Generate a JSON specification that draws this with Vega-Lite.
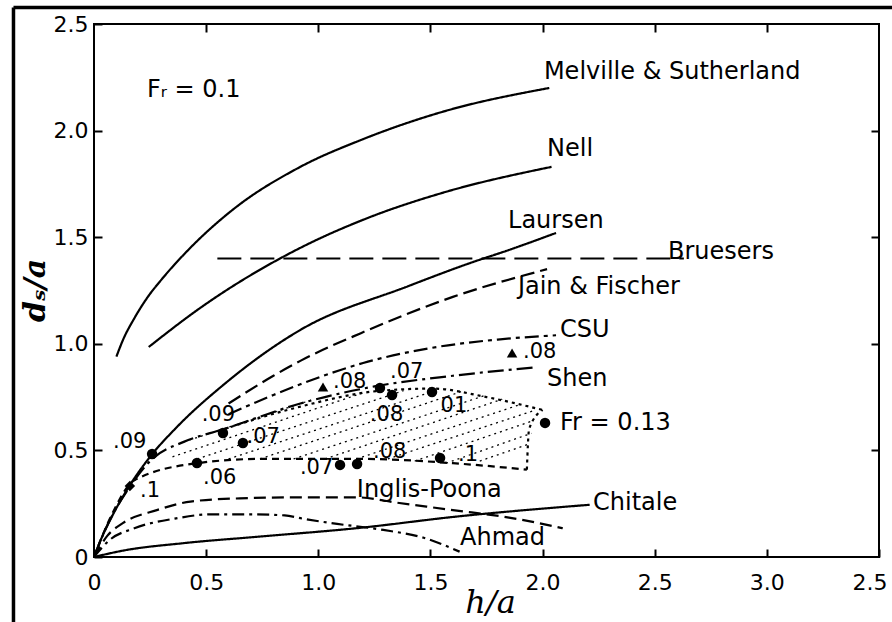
{
  "$schema": "https://vega.github.io/schema/vega-lite/v6.json",
  "width": 785,
  "height": 533,
  "autosize": {"type": "none"},
  "padding": {"left": 94, "top": 24, "right": 13, "bottom": 65},
  "background": "white",
  "config": {
    "view": {"stroke": "black", "strokeWidth": 2},
    "axis": {"grid": false, "domain": false, "tickColor": "black", "tickWidth": 2, "labelColor": "black", "labelFont": "DejaVu Sans", "labelFontSize": 22, "titleColor": "black"}
  },
  "datasets": {
    "frame": [
      {"x1": -0.359, "y1": 2.577, "x2": 3.56, "y2": 2.577},
      {"x1": -0.359, "y1": 2.577, "x2": -0.359, "y2": -0.31}
    ],
    "curves": [
      {"curve": "Melville & Sutherland", "h": 0.10, "d": 0.94},
      {"curve": "Melville & Sutherland", "h": 0.13, "d": 1.02},
      {"curve": "Melville & Sutherland", "h": 0.18, "d": 1.12},
      {"curve": "Melville & Sutherland", "h": 0.24, "d": 1.22},
      {"curve": "Melville & Sutherland", "h": 0.30, "d": 1.30},
      {"curve": "Melville & Sutherland", "h": 0.42, "d": 1.44},
      {"curve": "Melville & Sutherland", "h": 0.62, "d": 1.63},
      {"curve": "Melville & Sutherland", "h": 0.92, "d": 1.83},
      {"curve": "Melville & Sutherland", "h": 1.20, "d": 1.96},
      {"curve": "Melville & Sutherland", "h": 1.56, "d": 2.09},
      {"curve": "Melville & Sutherland", "h": 2.03, "d": 2.20},
      {"curve": "Nell", "h": 0.244, "d": 0.985},
      {"curve": "Nell", "h": 0.476, "d": 1.17},
      {"curve": "Nell", "h": 0.92, "d": 1.45},
      {"curve": "Nell", "h": 1.22, "d": 1.59},
      {"curve": "Nell", "h": 1.56, "d": 1.71},
      {"curve": "Nell", "h": 2.04, "d": 1.83},
      {"curve": "Laursen", "h": 0.0, "d": 0.0},
      {"curve": "Laursen", "h": 0.03, "d": 0.08},
      {"curve": "Laursen", "h": 0.08, "d": 0.19},
      {"curve": "Laursen", "h": 0.15, "d": 0.32},
      {"curve": "Laursen", "h": 0.25, "d": 0.47},
      {"curve": "Laursen", "h": 0.37, "d": 0.61},
      {"curve": "Laursen", "h": 0.58, "d": 0.81},
      {"curve": "Laursen", "h": 0.92, "d": 1.065},
      {"curve": "Laursen", "h": 1.4, "d": 1.27},
      {"curve": "Laursen", "h": 1.68, "d": 1.38},
      {"curve": "Laursen", "h": 1.85, "d": 1.44},
      {"curve": "Laursen", "h": 2.06, "d": 1.52},
      {"curve": "Bruesers", "h": 0.55, "d": 1.4},
      {"curve": "Bruesers", "h": 2.63, "d": 1.4},
      {"curve": "Jain & Fischer", "h": 0.6, "d": 0.72},
      {"curve": "Jain & Fischer", "h": 0.8, "d": 0.85},
      {"curve": "Jain & Fischer", "h": 0.92, "d": 0.92},
      {"curve": "Jain & Fischer", "h": 1.19, "d": 1.05},
      {"curve": "Jain & Fischer", "h": 1.6, "d": 1.22},
      {"curve": "Jain & Fischer", "h": 2.02, "d": 1.35},
      {"curve": "CSU", "h": 0.6, "d": 0.67},
      {"curve": "CSU", "h": 0.8, "d": 0.76},
      {"curve": "CSU", "h": 0.92, "d": 0.81},
      {"curve": "CSU", "h": 1.2, "d": 0.91},
      {"curve": "CSU", "h": 1.5, "d": 0.98},
      {"curve": "CSU", "h": 1.8, "d": 1.02},
      {"curve": "CSU", "h": 2.06, "d": 1.04},
      {"curve": "Shen", "h": 0.0, "d": 0.0},
      {"curve": "Shen", "h": 0.06, "d": 0.15},
      {"curve": "Shen", "h": 0.16, "d": 0.33},
      {"curve": "Shen", "h": 0.26, "d": 0.46},
      {"curve": "Shen", "h": 0.4, "d": 0.54},
      {"curve": "Shen", "h": 0.58, "d": 0.60},
      {"curve": "Shen", "h": 0.92, "d": 0.72},
      {"curve": "Shen", "h": 1.25, "d": 0.80},
      {"curve": "Shen", "h": 1.6, "d": 0.85},
      {"curve": "Shen", "h": 1.97, "d": 0.89},
      {"curve": "lower bound", "h": 0.0, "d": 0.0},
      {"curve": "lower bound", "h": 0.08, "d": 0.20},
      {"curve": "lower bound", "h": 0.18, "d": 0.36},
      {"curve": "lower bound", "h": 0.46, "d": 0.44},
      {"curve": "lower bound", "h": 0.74, "d": 0.46},
      {"curve": "lower bound", "h": 1.2, "d": 0.46},
      {"curve": "lower bound", "h": 1.6, "d": 0.44},
      {"curve": "lower bound", "h": 1.93, "d": 0.41},
      {"curve": "upper bound", "h": 0.58, "d": 0.60},
      {"curve": "upper bound", "h": 0.9, "d": 0.70},
      {"curve": "upper bound", "h": 1.28, "d": 0.78},
      {"curve": "upper bound", "h": 1.51, "d": 0.79},
      {"curve": "upper bound", "h": 1.75, "d": 0.75},
      {"curve": "upper bound", "h": 2.0, "d": 0.69},
      {"curve": "right bound", "h": 1.93, "d": 0.41},
      {"curve": "right bound", "h": 1.94, "d": 0.60},
      {"curve": "right bound", "h": 2.0, "d": 0.69},
      {"curve": "Inglis-Poona", "h": 0.0, "d": 0.0},
      {"curve": "Inglis-Poona", "h": 0.06, "d": 0.10},
      {"curve": "Inglis-Poona", "h": 0.13, "d": 0.16},
      {"curve": "Inglis-Poona", "h": 0.28, "d": 0.22},
      {"curve": "Inglis-Poona", "h": 0.43, "d": 0.26},
      {"curve": "Inglis-Poona", "h": 0.65, "d": 0.275},
      {"curve": "Inglis-Poona", "h": 0.95, "d": 0.28},
      {"curve": "Inglis-Poona", "h": 1.17, "d": 0.28},
      {"curve": "Inglis-Poona", "h": 1.35, "d": 0.255},
      {"curve": "Inglis-Poona", "h": 1.6, "d": 0.22},
      {"curve": "Inglis-Poona", "h": 1.85, "d": 0.185},
      {"curve": "Inglis-Poona", "h": 2.09, "d": 0.135},
      {"curve": "Ahmad", "h": 0.0, "d": 0.0},
      {"curve": "Ahmad", "h": 0.07, "d": 0.08},
      {"curve": "Ahmad", "h": 0.18, "d": 0.135},
      {"curve": "Ahmad", "h": 0.36, "d": 0.18},
      {"curve": "Ahmad", "h": 0.52, "d": 0.20},
      {"curve": "Ahmad", "h": 0.70, "d": 0.20},
      {"curve": "Ahmad", "h": 0.85, "d": 0.195},
      {"curve": "Ahmad", "h": 0.93, "d": 0.18},
      {"curve": "Ahmad", "h": 1.05, "d": 0.16},
      {"curve": "Ahmad", "h": 1.29, "d": 0.127},
      {"curve": "Ahmad", "h": 1.47, "d": 0.09},
      {"curve": "Ahmad", "h": 1.63, "d": 0.025},
      {"curve": "Chitale", "h": 0.0, "d": 0.0},
      {"curve": "Chitale", "h": 0.13, "d": 0.03},
      {"curve": "Chitale", "h": 0.4, "d": 0.065},
      {"curve": "Chitale", "h": 0.73, "d": 0.095},
      {"curve": "Chitale", "h": 1.17, "d": 0.135},
      {"curve": "Chitale", "h": 1.62, "d": 0.19},
      {"curve": "Chitale", "h": 2.21, "d": 0.245}
    ],
    "hatch": [
      {"id": 0, "h": 0.40, "d": 0.54}, {"id": 0, "h": 0.98, "d": 0.74},
      {"id": 1, "h": 0.35, "d": 0.47}, {"id": 1, "h": 1.20, "d": 0.77},
      {"id": 2, "h": 0.46, "d": 0.46}, {"id": 2, "h": 1.38, "d": 0.78},
      {"id": 3, "h": 0.60, "d": 0.46}, {"id": 3, "h": 1.52, "d": 0.78},
      {"id": 4, "h": 0.74, "d": 0.46}, {"id": 4, "h": 1.65, "d": 0.78},
      {"id": 5, "h": 0.89, "d": 0.46}, {"id": 5, "h": 1.75, "d": 0.76},
      {"id": 6, "h": 1.03, "d": 0.46}, {"id": 6, "h": 1.82, "d": 0.74},
      {"id": 7, "h": 1.17, "d": 0.46}, {"id": 7, "h": 1.90, "d": 0.715},
      {"id": 8, "h": 1.31, "d": 0.46}, {"id": 8, "h": 1.97, "d": 0.69},
      {"id": 9, "h": 1.43, "d": 0.45}, {"id": 9, "h": 1.96, "d": 0.64},
      {"id": 10, "h": 1.57, "d": 0.44}, {"id": 10, "h": 1.95, "d": 0.58},
      {"id": 11, "h": 1.72, "d": 0.45}, {"id": 11, "h": 1.94, "d": 0.53}
    ],
    "points": [
      {"h": 0.16, "d": 0.333, "marker": "diamond"},
      {"h": 0.259, "d": 0.483, "marker": "circle"},
      {"h": 0.575, "d": 0.582, "marker": "circle"},
      {"h": 0.459, "d": 0.441, "marker": "circle"},
      {"h": 0.664, "d": 0.535, "marker": "circle"},
      {"h": 1.021, "d": 0.797, "marker": "triangle"},
      {"h": 1.275, "d": 0.793, "marker": "circle"},
      {"h": 1.329, "d": 0.76, "marker": "circle"},
      {"h": 1.507, "d": 0.774, "marker": "circle"},
      {"h": 1.097, "d": 0.432, "marker": "circle"},
      {"h": 1.173, "d": 0.436, "marker": "circle"},
      {"h": 1.543, "d": 0.464, "marker": "circle"},
      {"h": 2.011, "d": 0.629, "marker": "circle"},
      {"h": 1.864, "d": 0.957, "marker": "triangle"}
    ],
    "labels": [
      {"t": "Melville & Sutherland", "h": 2.006, "d": 2.275, "kind": "curve"},
      {"t": "Nell", "h": 2.02, "d": 1.914, "kind": "curve"},
      {"t": "Laursen", "h": 1.846, "d": 1.576, "kind": "curve"},
      {"t": "Bruesers", "h": 2.559, "d": 1.43, "kind": "curve"},
      {"t": "Jain & Fischer", "h": 1.89, "d": 1.266, "kind": "curve"},
      {"t": "CSU", "h": 2.078, "d": 1.065, "kind": "curve"},
      {"t": "Shen", "h": 2.02, "d": 0.835, "kind": "curve"},
      {"t": "Fr = 0.13", "h": 2.078, "d": 0.628, "kind": "curve"},
      {"t": "Inglis-Poona", "h": 1.172, "d": 0.314, "kind": "curve"},
      {"t": "Chitale", "h": 2.225, "d": 0.253, "kind": "curve"},
      {"t": "Ahmad", "h": 1.632, "d": 0.089, "kind": "curve"},
      {"t": "Fᵣ = 0.1", "h": 0.236, "d": 2.19, "kind": "curve"},
      {"t": ".09", "h": 0.085, "d": 0.539, "kind": "point"},
      {"t": ".1", "h": 0.205, "d": 0.31, "kind": "point"},
      {"t": ".09", "h": 0.48, "d": 0.666, "kind": "point"},
      {"t": ".06", "h": 0.486, "d": 0.37, "kind": "point"},
      {"t": ".07", "h": 0.68, "d": 0.563, "kind": "point"},
      {"t": ".08", "h": 1.066, "d": 0.821, "kind": "point"},
      {"t": ".07", "h": 1.32, "d": 0.868, "kind": "point"},
      {"t": ".08", "h": 1.23, "d": 0.666, "kind": "point"},
      {"t": "01", "h": 1.545, "d": 0.708, "kind": "point"},
      {"t": ".08", "h": 1.913, "d": 0.962, "kind": "point"},
      {"t": ".07", "h": 0.918, "d": 0.417, "kind": "point"},
      {"t": ".08", "h": 1.244, "d": 0.492, "kind": "point"},
      {"t": ".1", "h": 1.623, "d": 0.478, "kind": "point"}
    ]
  },
  "layer": [
    {
      "data": {"name": "frame"},
      "mark": {"type": "rule", "color": "black", "strokeWidth": 3.5, "clip": false},
      "encoding": {
        "x": {"field": "x1", "type": "quantitative", "scale": {"domain": [0, 3.5], "nice": false, "zero": false}, "axis": null},
        "y": {"field": "y1", "type": "quantitative", "scale": {"domain": [0, 2.5], "nice": false, "zero": false}, "axis": null},
        "x2": {"field": "x2"},
        "y2": {"field": "y2"}
      }
    },
    {
      "data": {"name": "hatch"},
      "mark": {"type": "line", "color": "black", "strokeWidth": 1.3, "strokeDash": [2, 4]},
      "encoding": {
        "x": {"field": "h", "type": "quantitative", "scale": {"domain": [0, 3.5], "nice": false, "zero": false}, "axis": null},
        "y": {"field": "d", "type": "quantitative", "scale": {"domain": [0, 2.5], "nice": false, "zero": false}, "axis": null},
        "detail": {"field": "id", "type": "nominal"}
      }
    },
    {
      "data": {"name": "curves"},
      "mark": {"type": "line", "color": "black", "strokeWidth": 2.2, "interpolate": "monotone"},
      "encoding": {
        "x": {
          "field": "h", "type": "quantitative",
          "scale": {"domain": [0, 3.5], "nice": false, "zero": false},
          "axis": {
            "orient": "bottom", "values": [0, 0.5, 1, 1.5, 2, 2.5, 3, 3.5],
            "labelExpr": "datum.value == 3.5 ? '2.5' : (datum.value == 0 ? '0' : format(datum.value, '.1f'))",
            "tickSize": -8, "labelPadding": 23, "labelFlush": false, "labelBaseline": "top",
            "labelAlign": {"condition": {"test": "datum.value == 3.5", "value": "right"}, "value": "center"},
            "labelOffset": {"condition": {"test": "datum.value == 3.5", "value": 8}, "value": 0},
            "title": "h/a", "titleFont": "DejaVu Serif", "titleFontStyle": "italic", "titleFontWeight": "normal", "titleFontSize": 32,
            "titleX": 396, "titleY": 45, "titleAlign": "center", "titleBaseline": "middle"
          }
        },
        "y": {
          "field": "d", "type": "quantitative",
          "scale": {"domain": [0, 2.5], "nice": false, "zero": false},
          "axis": {
            "orient": "left", "values": [0, 0.5, 1, 1.5, 2, 2.5],
            "labelExpr": "datum.value == 0 ? '0' : format(datum.value, '.1f')",
            "tickSize": -8, "labelPadding": 14, "labelFlush": false,
            "title": "dₛ/a", "titleFont": "DejaVu Serif", "titleFontStyle": "italic", "titleFontWeight": "bold", "titleFontSize": 30,
            "titleX": -59, "titleY": 266, "titleAngle": -90, "titleAlign": "center", "titleBaseline": "middle"
          }
        },
        "detail": {"field": "curve", "type": "nominal"},
        "strokeDash": {
          "field": "curve", "type": "nominal", "legend": null,
          "scale": {
            "domain": ["Melville & Sutherland", "Nell", "Laursen", "Bruesers", "Jain & Fischer", "CSU", "Shen", "lower bound", "upper bound", "right bound", "Inglis-Poona", "Ahmad", "Chitale"],
            "range": [[1, 0], [1, 0], [1, 0], [24, 9], [14, 6], [14, 5, 4, 5], [16, 5, 3, 5], [7, 5], [3, 4], [3, 4], [12, 6], [12, 5, 3, 5], [1, 0]]
          }
        }
      }
    },
    {
      "data": {"name": "points"},
      "mark": {"type": "point", "filled": true, "color": "black", "opacity": 1, "size": 110},
      "encoding": {
        "x": {
          "field": "h", "type": "quantitative",
          "scale": {"domain": [0, 3.5], "nice": false, "zero": false},
          "axis": {"orient": "top", "values": [0.5, 1, 1.5, 2, 2.5, 3], "labels": false, "tickSize": -8, "title": null}
        },
        "y": {
          "field": "d", "type": "quantitative",
          "scale": {"domain": [0, 2.5], "nice": false, "zero": false},
          "axis": {"orient": "right", "values": [0.5, 1, 1.5, 2], "labels": false, "tickSize": -8, "title": null}
        },
        "shape": {
          "field": "marker", "type": "nominal", "legend": null,
          "scale": {"domain": ["circle", "triangle", "diamond"], "range": ["circle", "triangle-up", "diamond"]}
        }
      }
    },
    {
      "data": {"name": "labels"},
      "mark": {"type": "text", "color": "black", "align": "left", "baseline": "middle", "font": "DejaVu Sans"},
      "encoding": {
        "x": {"field": "h", "type": "quantitative", "scale": {"domain": [0, 3.5], "nice": false, "zero": false}, "axis": null},
        "y": {"field": "d", "type": "quantitative", "scale": {"domain": [0, 2.5], "nice": false, "zero": false}, "axis": null},
        "text": {"field": "t", "type": "nominal"},
        "size": {"field": "kind", "type": "nominal", "legend": null, "scale": {"domain": ["curve", "point"], "range": [24, 21]}}
      }
    }
  ],
  "resolve": {"axis": {"x": "independent", "y": "independent"}}
}
